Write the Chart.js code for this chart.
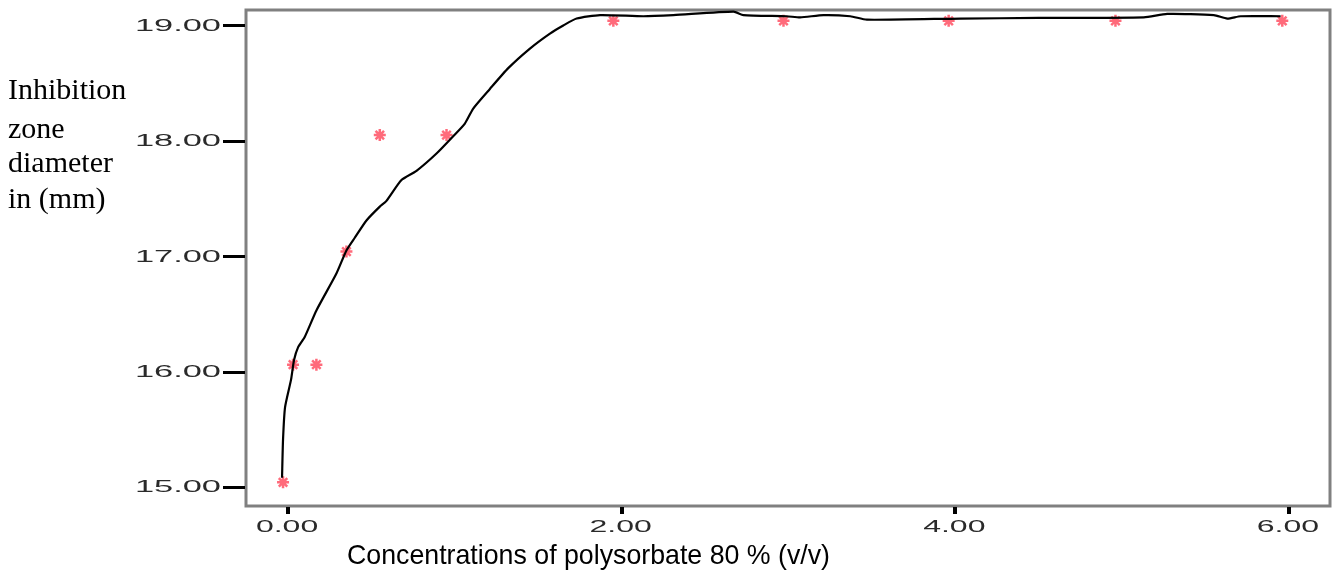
<!DOCTYPE html>
<html>
<head>
<meta charset="utf-8">
<script src="https://cdn.jsdelivr.net/npm/chart.js@4"></script>
<style>
  html, body { margin: 0; padding: 0; background: #fff; }
  #wrap { width: 1332px; height: 571px; }
</style>
</head>
<body>
<div id="wrap"><canvas id="zoneChart" width="1332" height="571"></canvas></div>
<script>
// measured points (concentration %, zone diameter mm)
const concentrations = [-0.03, 0.03, 0.17, 0.35, 0.55, 0.95, 1.95, 2.97, 3.96, 4.96, 5.96];
const diameters = [15.04, 16.06, 16.06, 17.04, 18.05, 18.05, 19.04, 19.04, 19.04, 19.04, 19.04];

// fitted curve
const fitX = [-0.036, -0.03, -0.018, 0.018, 0.036, 0.06, 0.1, 0.17, 0.29, 0.35, 0.40, 0.47, 0.55, 0.59,
  0.68, 0.77, 0.89, 0.99, 1.06, 1.11, 1.21, 1.32, 1.45, 1.57, 1.65, 1.73, 1.87, 2.13, 2.31, 2.67, 2.73,
  2.99, 3.07, 3.21, 3.37, 3.47, 4.03, 4.5, 5.13, 5.27, 5.55, 5.63, 5.71, 5.95];
const fitY = [15.08, 15.41, 15.69, 15.93, 16.1, 16.21, 16.3, 16.53, 16.85, 17.05, 17.16, 17.31, 17.43, 17.48,
  17.66, 17.74, 17.89, 18.04, 18.15, 18.28, 18.45, 18.63, 18.8, 18.93, 19.0, 19.06, 19.09, 19.08, 19.09, 19.12, 19.09,
  19.08, 19.07, 19.09, 19.08, 19.05, 19.06, 19.065, 19.07, 19.10, 19.09, 19.06, 19.08, 19.08];

const xTicks = [0, 2, 4, 6];
const yTicks = [15, 16, 17, 18, 19];
const yTitleLines = ['Inhibition', 'zone', 'diameter', 'in (mm)'];
const xTitle = 'Concentrations of polysorbate 80 % (v/v)';

const points = concentrations.map((c, i) => ({ x: c, y: diameters[i] }));
const curve = fitX.map((c, i) => ({ x: c, y: fitY[i] }));

// stretched text, like the original export
function wideText(ctx, txt, x, y, align, sx) {
  ctx.save();
  ctx.translate(x, y);
  ctx.scale(sx, 1);
  ctx.textAlign = align;
  ctx.fillText(txt, 0, 0);
  ctx.restore();
}

const decor = {
  id: 'decor',
  beforeDatasetsDraw(chart) {
    const { ctx, chartArea: a } = chart;
    ctx.save();
    ctx.strokeStyle = '#808080';
    ctx.lineWidth = 3;
    ctx.strokeRect(a.left, a.top, a.right - a.left, a.bottom - a.top);
    ctx.restore();
  },
  afterDraw(chart) {
    const { ctx, chartArea: a, scales } = chart;
    ctx.save();
    // tick marks
    ctx.strokeStyle = '#000';
    ctx.lineWidth = 3;
    yTicks.forEach(v => {
      const py = Math.round(scales.y.getPixelForValue(v)) + 0.5;
      ctx.beginPath();
      ctx.moveTo(a.left - 23, py);
      ctx.lineTo(a.left - 1, py);
      ctx.stroke();
    });
    ctx.lineWidth = 4;
    xTicks.forEach(v => {
      const px = Math.round(scales.x.getPixelForValue(v));
      ctx.beginPath();
      ctx.moveTo(px, a.bottom + 1);
      ctx.lineTo(px, a.bottom + 8);
      ctx.stroke();
    });

    // tick labels
    ctx.fillStyle = '#2a2a2a';
    ctx.font = '16px "Liberation Sans", Arial, sans-serif';
    ctx.textBaseline = 'middle';
    yTicks.forEach(v => {
      wideText(ctx, v.toFixed(2), a.left - 25, scales.y.getPixelForValue(v) + 1, 'right', 2.15);
    });
    xTicks.forEach(v => {
      wideText(ctx, v.toFixed(2), scales.x.getPixelForValue(v) - 1, a.bottom + 22, 'center', 2.0);
    });

    // axis titles
    ctx.fillStyle = '#000';
    ctx.textBaseline = 'alphabetic';
    ctx.font = '30px "Liberation Serif", "Times New Roman", serif';
    ctx.textAlign = 'left';
    const baselines = [99, 138, 172, 208];
    yTitleLines.forEach((t, i) => ctx.fillText(t, 8, baselines[i]));

    ctx.font = '28px "Liberation Sans", Arial, sans-serif';
    const w = ctx.measureText(xTitle).width;
    wideText(ctx, xTitle, 347, 564, 'left', 483 / w);
    ctx.restore();
  }
};

new Chart(document.getElementById('zoneChart'), {
  type: 'scatter',
  data: {
    datasets: [
      {
        label: 'fit',
        data: curve,
        showLine: true,
        borderColor: '#000',
        borderWidth: 2.2,
        pointRadius: 0,
        tension: 0.2,
        order: 1
      },
      {
        label: 'observed',
        data: points,
        pointStyle: 'star',
        pointRadius: 6,
        borderWidth: 2.5,
        borderColor: 'rgba(255, 70, 90, 0.8)',
        backgroundColor: 'rgba(255, 70, 90, 0.8)',
        order: 2
      }
    ]
  },
  options: {
    responsive: false,
    animation: false,
    layout: { autoPadding: false, padding: { left: 246, top: 10, right: 2, bottom: 65 } },
    plugins: { legend: { display: false }, tooltip: { enabled: false } },
    scales: {
      x: { type: 'linear', display: false, min: -0.252, max: 6.246 },
      y: { type: 'linear', display: false, min: 14.835, max: 19.134 }
    }
  },
  plugins: [decor]
});
</script>
</body>
</html>
